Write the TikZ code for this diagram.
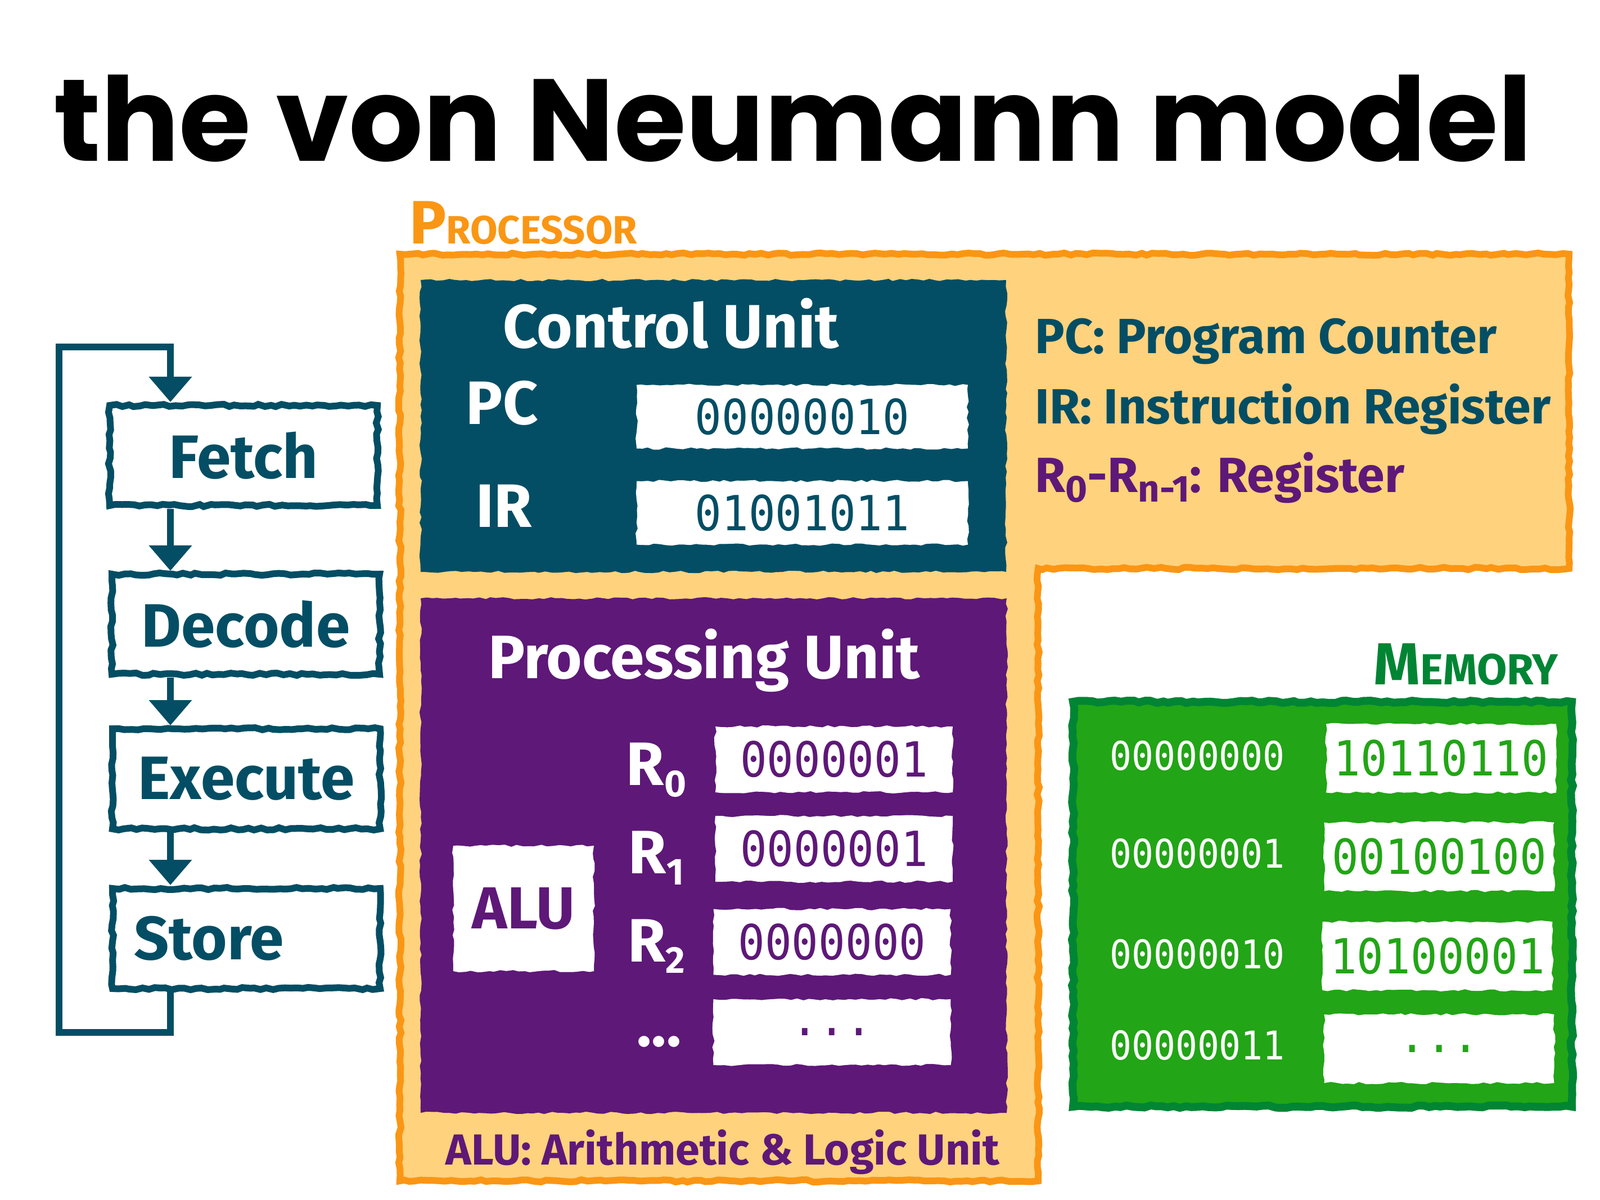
\documentclass[tikz,border=0pt]{standalone}
\usepackage{fontspec}
\usepackage{xcolor}
\usepackage{tikz}
\usetikzlibrary{arrows.meta,decorations.pathmorphing}
\setmainfont{Fira Sans}
\newfontfamily\titlefont{Poppins}
\newfontfamily\binfont[FakeStretch=0.92]{DejaVu Sans Mono}
\definecolor{flowTeal}{RGB}{3,78,100}
\definecolor{procOrange}{RGB}{250,150,20}
\definecolor{procFill}{RGB}{255,210,125}
\definecolor{puPurple}{RGB}{94,24,120}
\definecolor{memGreen}{RGB}{34,165,22}
\definecolor{memGreenDark}{RGB}{0,133,52}
\newcommand{\fakesc}[4]{{\fontsize{#1}{#1}\selectfont #3}{\fontsize{#2}{#2}\selectfont #4}}
\newcommand{\regsub}[1]{\raisebox{-0.35ex}{\fontsize{19}{19}\selectfont #1}}

\begin{document}
\begin{tikzpicture}[
  rough/.style={decorate, decoration={random steps, segment length=3pt, amplitude=0.6pt}},
  flowbox/.style={draw=flowTeal, line width=0.12cm, rough, minimum width=4.76cm, minimum height=1.78cm,
    inner sep=0pt, text=flowTeal, font=\bfseries\fontsize{31}{31}\selectfont},
  flowline/.style={flowTeal, line width=0.12cm},
  flowarrow/.style={flowline, -{Triangle[width=0.74cm, length=0.45cm]}},
  unitbox/.style={rough, inner sep=0pt},
  bigtext/.style={anchor=base, font=\bfseries\fontsize{31}{31}\selectfont},
  deftext/.style={anchor=base west, font=\bfseries\fontsize{25}{25}\selectfont},
  regbox/.style={fill=white, rough, inner sep=0pt, minimum width=4.22cm, minimum height=1.17cm,
    text=puPurple, font=\binfont\fontsize{24.5}{24.5}\selectfont},
  cubox/.style={regbox, text=flowTeal, minimum width=5.89cm, minimum height=1.13cm},
  memval/.style={regbox, text=memGreen, minimum width=4.09cm, minimum height=1.22cm},
  addr/.style={text=white, font=\binfont\fontsize{20}{20}\selectfont}
]
\useasboundingbox (0,0) rectangle (28.45,-21.34);
\fill[white] (0,0) rectangle (28.45,-21.34);
%
\node[anchor=base, font=\titlefont\bfseries\fontsize{59}{59}\selectfont] (title) at (14.10,-2.87) {the von Neumann model};

%
\coordinate (spine) at (3.03,-6.17);
\coordinate (looptop) at (1.05,-6.17);
\coordinate (loopbot) at (1.05,-18.36);
\node[flowbox] (fetch) at (4.33,-8.10) {Fetch};
\node[flowbox] (decode) at (4.37,-11.10) {Decode};
\node[flowbox] (execute) at (4.38,-13.85) {Execute};
\node[flowbox, text width=4.0cm, align=left] (store) at (4.38,-16.69) {Store};
\draw[flowarrow] (spine |- fetch.south) -- (spine |- decode.north);
\draw[flowarrow] (spine |- decode.south) -- (spine |- execute.north);
\draw[flowarrow] (spine |- execute.south) -- (spine |- store.north);
\draw[flowarrow] (spine |- store.south) -- (spine |- loopbot) -- (loopbot) -- (looptop) -- (spine) -- (spine |- fetch.north);

%
\draw[procOrange, fill=procFill, line width=0.12cm, rough] (7.11,-4.52) -- (27.90,-4.52) -- (27.90,-10.11)
  -- (18.46,-10.11) -- (18.46,-21.00) -- (7.11,-21.00) -- cycle;
\node[anchor=base west, text=procOrange, font=\bfseries] (proclabel) at (7.16,-4.34) {\fakesc{31}{20}{P}{ROCESSOR}};

%
\node[unitbox, fill=flowTeal, minimum width=10.41cm, minimum height=5.19cm] (ctrl) at (12.685,-7.575) {};
\node[bigtext, text=white] (ctrltitle) at (11.93,-6.19) {Control Unit};
\node[bigtext, text=white] (pclabel) at (8.93,-7.55) {PC};
\node[bigtext, text=white] (irlabel) at (8.96,-9.38) {IR};
\node[cubox] (pcval) at (14.265,-7.41) {00000010};
\node[cubox] (irval) at (14.265,-9.12) {01001011};

%
\node[deftext, text=flowTeal] (pcdef) at (18.28,-6.29) {PC: Program Counter};
\node[deftext, text=flowTeal] (irdef) at (18.28,-7.54) {IR: Instruction Register};
\node[deftext, text=puPurple] (rdef) at (18.28,-8.76) {R\regsub{0}-R\regsub{n-1}: Register};

%
\node[unitbox, fill=puPurple, minimum width=10.42cm, minimum height=9.15cm] (proc) at (12.69,-15.215) {};
\node[bigtext, text=white] (proctitle) at (12.52,-12.07) {Processing Unit};
\node[fill=white, rough, minimum width=2.5cm, minimum height=2.23cm, text=puPurple,
  font=\bfseries\fontsize{30}{30}\selectfont] (alu) at (9.31,-16.155) {ALU};
\node[bigtext, text=white] (rzero) at (11.67,-13.96) {R\regsub{0}};
\node[bigtext, text=white] (rone) at (11.67,-15.53) {R\regsub{1}};
\node[bigtext, text=white] (rtwo) at (11.67,-17.10) {R\regsub{2}};
\node[bigtext, text=white] (rmore) at (11.72,-18.60) {...};
\node[regbox] (rzeroval) at (14.83,-13.505) {0000001};
\node[regbox] (roneval) at (14.83,-15.095) {0000001};
\node[regbox] (rtwoval) at (14.795,-16.75) {0000000};
\node[regbox] (rmoreval) at (14.795,-18.355) {...};
\node[anchor=base, text=puPurple, font=\bfseries\fontsize{22}{22}\selectfont] (aludef) at (12.85,-20.71)
  {ALU: Arithmetic \& Logic Unit};

%
\node[anchor=base east, text=memGreenDark, font=\bfseries] (memlabel) at (27.83,-12.18) {\fakesc{30}{22}{M}{EMORY}};
\node[draw=memGreenDark, fill=memGreen, line width=0.14cm, rough, minimum width=8.87cm, minimum height=7.2cm] (mem)
  at (23.515,-16.08) {};
\node[addr] (addrzero) at (21.29,-13.44) {00000000};
\node[addr] (addrone) at (21.29,-15.18) {00000001};
\node[addr] (addrtwo) at (21.29,-16.97) {00000010};
\node[addr] (addrthree) at (21.29,-18.59) {00000011};
\node[memval] (valzero) at (25.625,-13.485) {10110110};
\node[memval] (valone) at (25.59,-15.235) {00100100};
\node[memval] (valtwo) at (25.56,-17.00) {10100001};
\node[memval] (valthree) at (25.59,-18.65) {...};
\end{tikzpicture}
\end{document}
